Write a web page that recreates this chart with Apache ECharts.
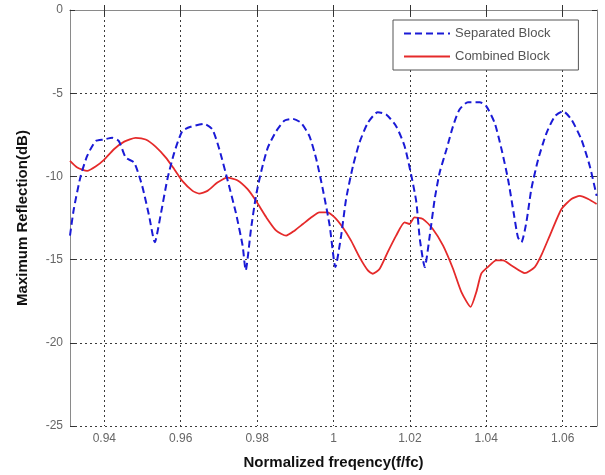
<!DOCTYPE html>
<html>
<head>
<meta charset="utf-8">
<script src="https://cdn.jsdelivr.net/npm/echarts@6/dist/echarts.min.js"></script>
<style>
  html, body { margin: 0; padding: 0; background: #fff; }
  #chart { width: 605px; height: 475px; }
</style>
</head>
<body>
<div id="chart"></div>
<script>
"use strict";
/* ============= Data ======================================== */
const xTicks = [0.94, 0.96, 0.98, 1.00, 1.02, 1.04, 1.06];
const yTicks = [0, -5, -10, -15, -20, -25];

/** Separated Block (blue dashed) */
const sepFreq = [0.9310, 0.9320, 0.9338, 0.9355, 0.9377, 0.9399, 0.9421, 0.9438, 0.9456, 0.9478,
    0.9499, 0.9517, 0.9532, 0.9547, 0.9565, 0.9583, 0.9604, 0.9626, 0.9661, 0.9683,
    0.9701, 0.9722, 0.9744, 0.9762, 0.9770, 0.9784, 0.9797, 0.9811, 0.9828, 0.9850,
    0.9872, 0.9893, 0.9915, 0.9937, 0.9955, 0.9972, 0.9990, 1.0005, 1.0020, 1.0033,
    1.0051, 1.0068, 1.0090, 1.0116, 1.0138, 1.0164, 1.0186, 1.0204, 1.0217, 1.0226,
    1.0239, 1.0252, 1.0265, 1.0278, 1.0296, 1.0313, 1.0330, 1.0352, 1.0383, 1.0400,
    1.0422, 1.0440, 1.0457, 1.0473, 1.0483, 1.0492, 1.0505, 1.0518, 1.0536, 1.0558,
    1.0580, 1.0601, 1.0623, 1.0649, 1.0671, 1.0689];
const sepDb = [-13.56, -11.96, -9.97, -8.77, -7.88, -7.78, -7.68, -7.88, -8.87, -9.17,
    -10.57, -12.36, -13.96, -12.36, -10.17, -8.57, -7.28, -7.02, -6.84, -7.18,
    -8.37, -10.17, -12.16, -14.16, -15.65, -13.16, -11.17, -9.67, -8.27, -7.28,
    -6.64, -6.54, -6.78, -7.58, -8.97, -10.77, -12.96, -15.45, -13.56, -11.36,
    -9.37, -7.97, -6.78, -6.14, -6.28, -6.98, -8.17, -9.97, -11.56, -13.76,
    -15.45, -13.56, -11.36, -9.77, -8.37, -6.98, -5.98, -5.54, -5.54, -5.78,
    -6.78, -8.37, -10.17, -12.36, -13.66, -13.96, -12.76, -10.77, -8.97, -7.38,
    -6.38, -6.08, -6.58, -7.78, -9.37, -11.17];

/** Combined Block (red solid) */
const combFreq = [0.9310, 0.9329, 0.9355, 0.9377, 0.9399, 0.9425, 0.9452, 0.9482, 0.9508, 0.9534,
    0.9561, 0.9583, 0.9604, 0.9631, 0.9648, 0.9670, 0.9696, 0.9722, 0.9748, 0.9775,
    0.9797, 0.9824, 0.9850, 0.9876, 0.9898, 0.9920, 0.9942, 0.9963, 0.9983, 1.0003,
    1.0024, 1.0046, 1.0068, 1.0090, 1.0103, 1.0121, 1.0142, 1.0164, 1.0186, 1.0199,
    1.0212, 1.0234, 1.0260, 1.0287, 1.0313, 1.0335, 1.0359, 1.0374, 1.0387, 1.0404,
    1.0426, 1.0444, 1.0466, 1.0501, 1.0527, 1.0544, 1.0570, 1.0597, 1.0623, 1.0645,
    1.0667, 1.0689];
const combDb = [-9.07, -9.47, -9.67, -9.41, -9.01, -8.37, -7.91, -7.68, -7.78, -8.21,
    -8.87, -9.57, -10.27, -10.87, -11.03, -10.87, -10.37, -10.07, -10.23, -10.77,
    -11.47, -12.46, -13.26, -13.56, -13.26, -12.86, -12.46, -12.16, -12.16, -12.46,
    -13.06, -13.86, -14.85, -15.65, -15.85, -15.55, -14.55, -13.56, -12.76, -12.86,
    -12.46, -12.56, -13.16, -14.16, -15.55, -16.95, -17.84, -16.95, -15.85, -15.45,
    -15.05, -15.05, -15.35, -15.81, -15.45, -14.75, -13.36, -11.96, -11.36, -11.17,
    -11.36, -11.66];

const xMin = 0.931;
const xMax = 1.069;

/* ============= Chart =================== */
function Zip(xs, ys) {
    return xs.map((x, i) => [x, ys[i]]);
}

const font = "'Liberation Sans', Arial, sans-serif";
const frameColor = "#8a8a8a";
const gridDash = { color: "#3a3a3a", width: 1, type: [2, 3] };

let chart = echarts.init(document.getElementById("chart"), null, { renderer: "canvas" });

chart.setOption({
    backgroundColor: "#fff",
    animation: false,
    grid: { left: 70, right: 8, top: 10, bottom: 47, show: false },
    legend: {
        orient: "vertical",
        left: 393,
        top: 20,
        padding: [7, 28, 7, 10],
        itemGap: 10,
        itemWidth: 46,
        itemHeight: 14,
        borderColor: "#555",
        borderWidth: 1,
        backgroundColor: "#fff",
        itemStyle: { opacity: 0 },
        textStyle: { fontFamily: font, fontSize: 13, color: "#555" },
        data: ["Separated Block", "Combined Block"]
    },
    xAxis: [{
        type: "value",
        min: xMin,
        max: xMax,
        name: "Normalized freqency(f/fc)",
        nameLocation: "middle",
        nameGap: 29,
        nameTextStyle: { fontFamily: font, fontSize: 15, fontWeight: "bold", color: "#111" },
        axisLine: { show: true, lineStyle: { color: frameColor, width: 1 } },
        axisTick: { show: true, inside: true, length: 5, lineStyle: { color: "#333" }, customValues: xTicks },
        axisLabel: {
            customValues: xTicks,
            margin: 7,
            fontFamily: font, fontSize: 12, color: "#666",
            formatter: (v) => String(+v.toFixed(2))
        },
        splitLine: { show: true, lineStyle: gridDash }
    }, {
        type: "value",
        position: "top",
        min: xMin,
        max: xMax,
        axisLine: { show: true, lineStyle: { color: frameColor, width: 1 } },
        axisTick: { show: true, inside: true, length: 5, lineStyle: { color: "#333" }, customValues: xTicks },
        axisLabel: { show: false, customValues: xTicks },
        splitLine: { show: false }
    }],
    yAxis: [{
        type: "value",
        min: -25,
        max: 0,
        interval: 5,
        name: "Maximum Reflection(dB)",
        nameLocation: "middle",
        nameGap: 40,
        nameTextStyle: { fontFamily: font, fontSize: 15, fontWeight: "bold", color: "#111" },
        axisLine: { show: true, lineStyle: { color: frameColor, width: 1 } },
        axisTick: { show: true, inside: true, length: 5, lineStyle: { color: "#333" } },
        axisLabel: { margin: 7, fontFamily: font, fontSize: 12, color: "#666" },
        splitLine: { show: true, lineStyle: gridDash }
    }, {
        type: "value",
        position: "right",
        min: -25,
        max: 0,
        interval: 5,
        axisLine: { show: true, lineStyle: { color: frameColor, width: 1 } },
        axisTick: { show: true, inside: true, length: 5, lineStyle: { color: "#333" } },
        axisLabel: { show: false },
        splitLine: { show: false }
    }],
    series: [{
        name: "Separated Block",
        type: "line",
        xAxisIndex: 0,
        yAxisIndex: 0,
        symbol: "none",
        smooth: 0.2,
        data: Zip(sepFreq, sepDb),
        lineStyle: { color: "#1a1ad6", width: 2, type: [7, 4] },
        itemStyle: { color: "#1a1ad6" },
        z: 3
    }, {
        name: "Combined Block",
        type: "line",
        xAxisIndex: 0,
        yAxisIndex: 0,
        symbol: "none",
        smooth: 0.2,
        data: Zip(combFreq, combDb),
        lineStyle: { color: "#e52a2a", width: 1.8 },
        itemStyle: { color: "#e52a2a" },
        z: 2
    }]
});
</script>
</body>
</html>
